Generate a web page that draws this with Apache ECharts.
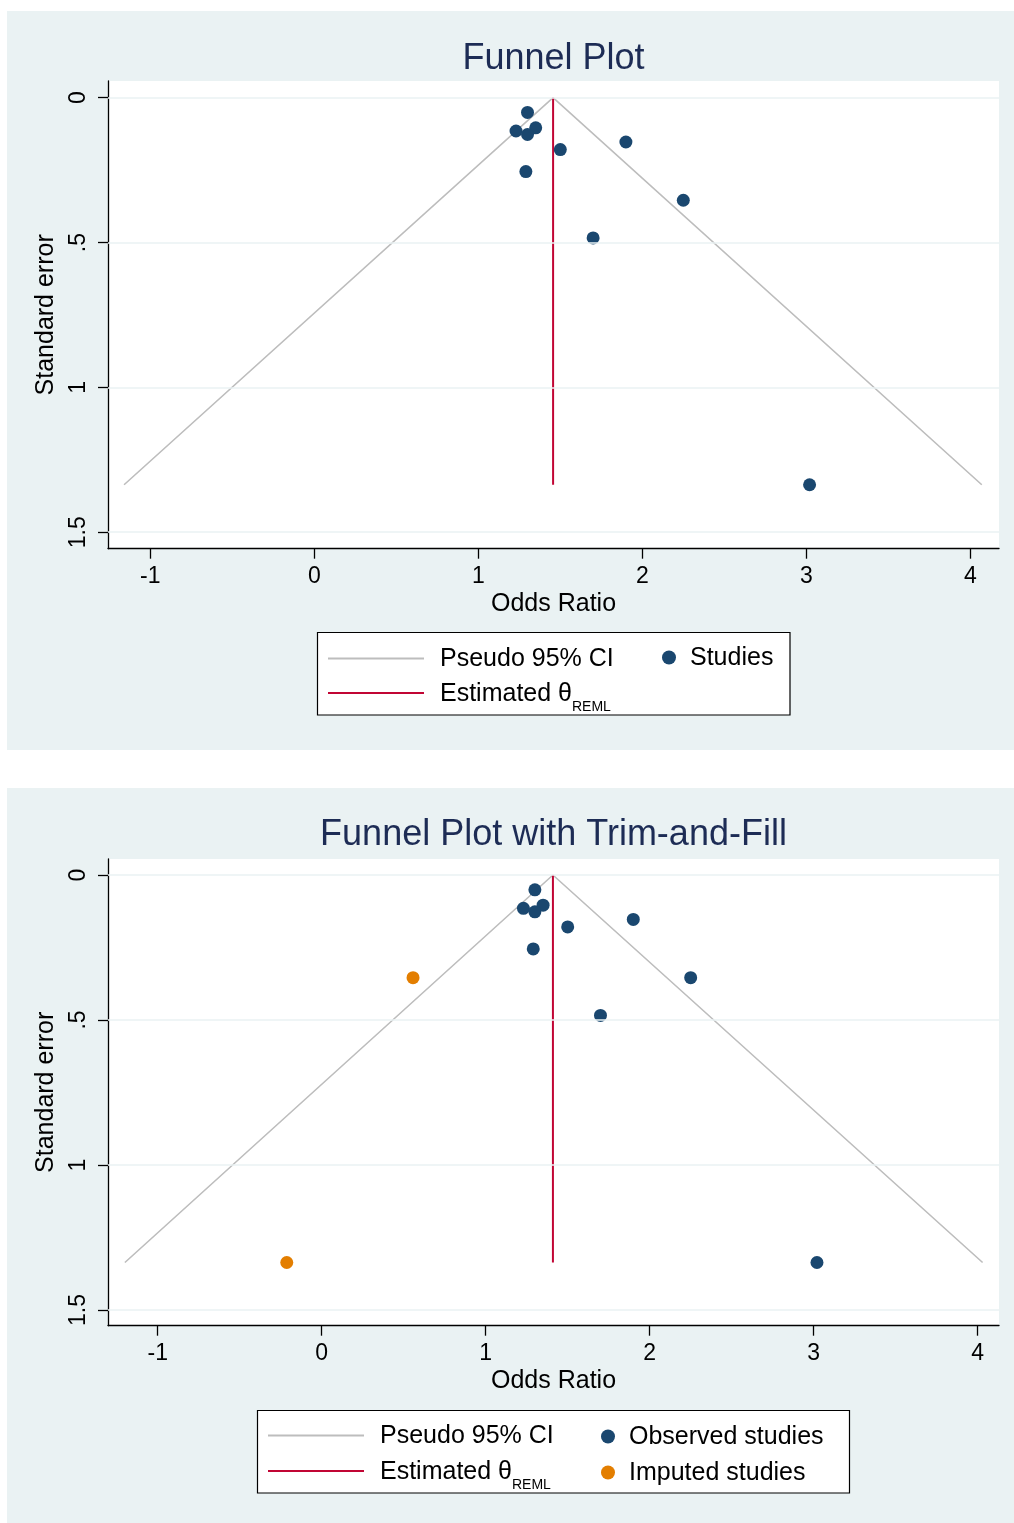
<!DOCTYPE html>
<html>
<head>
<meta charset="utf-8">
<script src="https://cdn.jsdelivr.net/npm/echarts@6/dist/echarts.min.js"></script>
<style>
  html, body { margin: 0; padding: 0; background: #fff; }
  .panel { position: absolute; left: 7px; width: 1007px; background: #EAF2F3; }
  #chart { position: absolute; left: 0; top: 0; width: 1014px; height: 1523px; }
</style>
</head>
<body>
<div class="panel" style="top:11px;height:739px"></div>
<div class="panel" style="top:788px;height:735px"></div>
<div id="chart"></div>
<script>
// observed studies (effect size, standard error)
const studyES = [1.30, 1.23, 1.35, 1.30, 1.50, 1.90, 1.29, 2.25, 1.70, 3.02];
const studySE = [0.051, 0.115, 0.104, 0.127, 0.179, 0.153, 0.255, 0.354, 0.484, 1.336];
// studies imputed by trim-and-fill
const imputedES = [0.557, -0.213];
const imputedSE = [0.354, 1.336];
// pooled estimates
const thetaPlain = 1.456;
const thetaFilled = 1.41;
// pseudo 95% CI funnel corners (left end, apex, right end)
const ciPlainES = [-1.16, 1.456, 4.07];
const ciFilledES = [-1.20, 1.41, 4.03];
const ciSE = [1.336, 0, 1.336];
// axis ticks
const xTicks = [-1, 0, 1, 2, 3, 4];
const yTicks = [0, 0.5, 1, 1.5];

const font = "'Liberation Sans', Arial, Helvetica, sans-serif";
const navy = '#1A476F';
const orange = '#E37E00';
const red = '#C10534';
const grey = '#BDBDBD';
const lineIcon = 'path://M0 0H48V1H0Z';

function zip(xs, ys) {
  return xs.map((x, i) => [x, ys[i]]);
}

function yFmt(v) {
  return v === 0 ? '0' : String(v).replace(/^0\./, '.');
}

function legendFmt(name) {
  if (name.indexOf('_REML') > 0) return '{n|' + name.replace('_REML', '') + '}{s|REML}';
  return '{n|' + name + '}';
}

function legendRich(padLeft) {
  return {
    fontSize: 25, color: '#000', fontFamily: font,
    rich: {
      n: { fontSize: 25, lineHeight: 30, color: '#000', fontFamily: font, padding: [2, 0, 0, padLeft] },
      s: { fontSize: 14, lineHeight: 10, color: '#000', fontFamily: font, padding: [22, 0, 0, 0], verticalAlign: 'top' }
    }
  };
}

const option = {
  animation: false,
  title: [
    { text: 'Funnel Plot', left: 553.5, top: 41, textAlign: 'center', padding: 0,
      textStyle: { fontSize: 36, fontWeight: 'normal', color: '#1D2C55', fontFamily: font } },
    { text: 'Funnel Plot with Trim-and-Fill', left: 553.5, top: 817, textAlign: 'center', padding: 0,
      textStyle: { fontSize: 36, fontWeight: 'normal', color: '#1D2C55', fontFamily: font } }
  ],
  grid: [
    { left: 108, top: 81, width: 891, height: 467.7, show: true, backgroundColor: '#fff', borderWidth: 0 },
    { left: 108, top: 859, width: 891, height: 466.7, show: true, backgroundColor: '#fff', borderWidth: 0 }
  ],
  xAxis: [[-1.258, 4.175], [-1.303, 4.130]].map((r, i) => ({
    gridIndex: i, type: 'value', min: r[0], max: r[1],
    name: 'Odds Ratio', nameLocation: 'middle', nameGap: 43,
    nameTextStyle: { fontSize: 25, color: '#000', fontFamily: font },
    axisLine: { onZero: false, lineStyle: { color: '#000', width: 1.3 } },
    axisTick: { length: 10, customValues: xTicks, lineStyle: { color: '#000', width: 1.3 } },
    axisLabel: { customValues: xTicks, fontSize: 23, color: '#000', margin: 16, fontFamily: font },
    splitLine: { show: false }
  })),
  yAxis: [[-0.0576, 1.5568], [-0.0552, 1.554]].map((r, i) => ({
    gridIndex: i, type: 'value', inverse: true, min: r[0], max: r[1],
    name: 'Standard error', nameLocation: 'middle', nameGap: 32,
    nameTextStyle: { fontSize: 25, color: '#000', fontFamily: font },
    axisLine: { onZero: false, lineStyle: { color: '#000', width: 1.3 } },
    axisTick: { length: 10, customValues: yTicks, lineStyle: { color: '#000', width: 1.3 } },
    axisLabel: { customValues: yTicks, rotate: 90, fontSize: 23, color: '#000', margin: 18,
      fontFamily: font, formatter: yFmt },
    splitLine: { show: false }
  })),
  legend: [
    { orient: 'vertical', left: 328, top: 645, padding: 0, itemGap: 6, itemWidth: 96, itemHeight: 14,
      selectedMode: false,
      data: [{ name: 'Pseudo 95% CI', icon: lineIcon }, { name: 'Estimated θ_REML', icon: lineIcon }],
      formatter: legendFmt, textStyle: legendRich(11) },
    { orient: 'vertical', left: 662, top: 644, padding: 0, itemGap: 6, itemWidth: 14, itemHeight: 14,
      selectedMode: false, data: [{ name: 'Studies', icon: 'circle' }], formatter: legendFmt,
      textStyle: legendRich(9) },
    { orient: 'vertical', left: 268, top: 1422, padding: 0, itemGap: 7, itemWidth: 96, itemHeight: 14,
      selectedMode: false,
      data: [{ name: 'Pseudo 95% CI', icon: lineIcon }, { name: 'Estimated θ_REML', icon: lineIcon }],
      formatter: legendFmt, textStyle: legendRich(11) },
    { orient: 'vertical', left: 601, top: 1423, padding: 0, itemGap: 9, itemWidth: 14, itemHeight: 14,
      selectedMode: false,
      data: [{ name: 'Observed studies', icon: 'circle' }, { name: 'Imputed studies', icon: 'circle' }],
      formatter: legendFmt, textStyle: legendRich(9) }
  ],
  graphic: [
    { type: 'rect', shape: { x: 317.5, y: 632.5, width: 472.5, height: 82.5 }, z: 0,
      style: { fill: '#fff', stroke: '#000', lineWidth: 1.2 } },
    { type: 'rect', shape: { x: 257.5, y: 1410.5, width: 592, height: 82.5 }, z: 0,
      style: { fill: '#fff', stroke: '#000', lineWidth: 1.2 } }
  ],
  series: []
};

function gridLines() {
  return {
    silent: true, symbol: ['none', 'none'], label: { show: false },
    lineStyle: { color: '#EAF2F3', width: 1.6, type: 'solid' },
    data: yTicks.map(v => ({ yAxis: v }))
  };
}

[[ciPlainES, thetaPlain], [ciFilledES, thetaFilled]].forEach((p, i) => {
  option.series.push({
    type: 'line', name: 'Pseudo 95% CI', xAxisIndex: i, yAxisIndex: i,
    data: zip(p[0], ciSE), symbol: 'none', color: grey,
    lineStyle: { color: grey, width: 1.6 }, markLine: gridLines(), z: 2
  });
  option.series.push({
    type: 'line', name: 'Estimated θ_REML', xAxisIndex: i, yAxisIndex: i,
    data: [[p[1], 0], [p[1], ciSE[0]]], symbol: 'none', color: red,
    lineStyle: { color: red, width: 2 }, z: 3
  });
});

option.series.push({
  type: 'scatter', name: 'Studies', xAxisIndex: 0, yAxisIndex: 0,
  data: zip(studyES, studySE), symbol: 'circle', symbolSize: 13,
  itemStyle: { color: navy, opacity: 1 }, z: 4
});
option.series.push({
  type: 'scatter', name: 'Observed studies', xAxisIndex: 1, yAxisIndex: 1,
  data: zip(studyES, studySE), symbol: 'circle', symbolSize: 13,
  itemStyle: { color: navy, opacity: 1 }, z: 4
});
option.series.push({
  type: 'scatter', name: 'Imputed studies', xAxisIndex: 1, yAxisIndex: 1,
  data: zip(imputedES, imputedSE), symbol: 'circle', symbolSize: 13,
  itemStyle: { color: orange, opacity: 1 }, z: 4
});

const chart = echarts.init(document.getElementById('chart'), null, { renderer: 'canvas' });
chart.setOption(option);
</script>
</body>
</html>
